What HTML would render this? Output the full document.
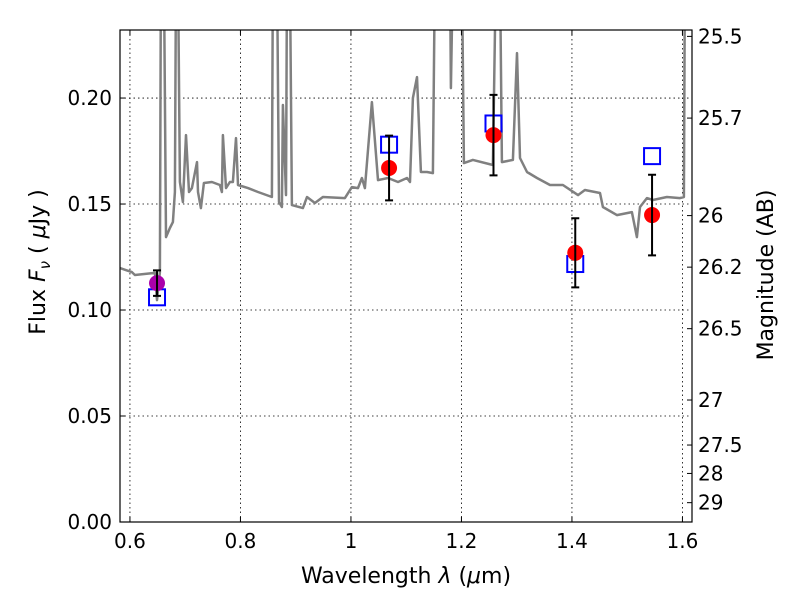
<!DOCTYPE html>
<html><head><meta charset="utf-8"><style>
html,body{margin:0;padding:0;background:#fff;}
svg{display:block;font-family:"DejaVu Sans","Liberation Sans",sans-serif;}
</style></head><body>
<svg id="chart" width="800" height="600" viewBox="0 0 800 600">
<rect width="800" height="600" fill="#fff"/>
<defs><clipPath id="pc"><rect x="120" y="30" width="572" height="492"/></clipPath></defs>
<g id="grid"></g>
<g id="spec" clip-path="url(#pc)"></g>
<g id="marks" clip-path="url(#pc)"></g>
<rect x="120" y="30" width="572" height="492" fill="none" stroke="#000" stroke-width="1.2"/>
<g id="axes"></g>
<text x="406" y="583" text-anchor="middle" font-size="22">Wavelength  <tspan font-style="italic">λ</tspan> (<tspan font-style="italic">μ</tspan>m)</text>
<text transform="translate(45,262) rotate(-90)" text-anchor="middle" font-size="22">Flux  <tspan font-style="italic">F<tspan font-size="15" dy="5">ν</tspan></tspan><tspan dy="-5">  (  </tspan><tspan font-style="italic">μ</tspan>Jy )</text>
<text transform="translate(773,275) rotate(-90)" text-anchor="middle" font-size="22">Magnitude (AB)</text>
</svg>
<script>
const specWave=[0.582,0.6036,0.609,0.6452,0.6489,0.6543,0.6561,0.6615,0.6652,0.6724,0.6778,0.6814,0.6833,0.6869,0.6905,0.6959,0.7014,0.7068,0.7122,0.7213,0.7231,0.7285,0.7339,0.7484,0.7629,0.7665,0.7683,0.7738,0.781,0.7864,0.7919,0.7955,0.8136,0.8317,0.857,0.8588,0.8661,0.8697,0.8751,0.8769,0.8824,0.8842,0.8896,0.8932,0.9131,0.9204,0.9348,0.9493,0.9891,1.0018,1.0127,1.0199,1.0253,1.038,1.0489,1.067,1.0851,1.1014,1.1068,1.1122,1.1195,1.1267,1.1376,1.1484,1.152,1.1792,1.181,1.1846,1.2009,1.2045,1.2208,1.257,1.2624,1.2697,1.2733,1.2932,1.3005,1.3059,1.3186,1.3367,1.3602,1.3837,1.4109,1.4235,1.4507,1.4561,1.4814,1.5086,1.5176,1.5231,1.5357,1.5466,1.5719,1.5955,1.6027,1.6045,1.6172];
const specFlux=[0.1198,0.1179,0.1165,0.1175,0.1047,0.1179,0.26,0.26,0.1344,0.1387,0.1415,0.1557,0.26,0.26,0.1604,0.1509,0.1825,0.1557,0.1575,0.1698,0.1557,0.1481,0.1599,0.1604,0.159,0.1557,0.1825,0.1575,0.1604,0.1604,0.1811,0.159,0.1575,0.1557,0.1533,0.26,0.26,0.1509,0.1486,0.1967,0.1542,0.26,0.26,0.1495,0.1481,0.1533,0.1505,0.1533,0.1528,0.158,0.1575,0.1623,0.1575,0.1981,0.1613,0.1623,0.1604,0.1623,0.1604,0.2,0.2099,0.1651,0.1651,0.1646,0.26,0.26,0.2047,0.26,0.26,0.1693,0.1708,0.1684,0.26,0.26,0.1698,0.1708,0.2212,0.1717,0.1651,0.1623,0.159,0.159,0.1542,0.1566,0.1552,0.1486,0.1448,0.1462,0.1344,0.1486,0.1528,0.1519,0.1533,0.1528,0.1533,0.26,0.26];
const photWave=[0.649,1.069,1.258,1.406,1.545];
const photFlux=[0.1127,0.167,0.1825,0.127,0.1448];
const photErr=[0.006,0.0153,0.019,0.0163,0.019];
const modelFlux=[0.106,0.178,0.188,0.1217,0.1726];
const xTicks=[0.6,0.8,1.0,1.2,1.4,1.6];
const xTickLabels=["0.6","0.8","1","1.2","1.4","1.6"];
const yTicks=[0,0.05,0.1,0.15,0.2];
const yTickLabels=["0.00","0.05","0.10","0.15","0.20"];
const magTicks=[25.5,25.7,26,26.2,26.5,27,27.5,28,29];
const magTickLabels=["25.5","25.7","26","26.2","26.5","27","27.5","28","29"];

const NS="http://www.w3.org/2000/svg";
const X0=120,X1=692,Y0=522,Y1=30,XMIN=0.582,XMAX=1.6173,YMIN=0,YMAX=0.2321;
const sx=w=>X0+(w-XMIN)/(XMAX-XMIN)*(X1-X0);
const sy=f=>Y0-(f-YMIN)/(YMAX-YMIN)*(Y0-Y1);
const magY=m=>sy(Math.pow(10,(23.9-m)/2.5));
function mk(parent,tag,attrs){const e=document.createElementNS(NS,tag);for(const k in attrs)e.setAttribute(k,attrs[k]);document.getElementById(parent).appendChild(e);return e;}

xTicks.forEach((t,i)=>{const x=sx(t);
 const g=mk('grid','line',{x1:x,x2:x,y1:Y1,y2:Y0,stroke:'#000','stroke-width':0.8,'stroke-dasharray':'1.5,3'});
 
 
 mk('axes','line',{x1:x,x2:x,y1:Y0,y2:Y0-5,stroke:'#000'});
 mk('axes','line',{x1:x,x2:x,y1:Y1,y2:Y1+5,stroke:'#000'});
 const l=mk('axes','text',{x:x,y:Y0+26,'text-anchor':'middle','font-size':20});
 l.textContent=xTickLabels[i];
 
 
});
yTicks.forEach((t,i)=>{const y=sy(t);
 const g=mk('grid','line',{x1:X0,x2:X1,y1:y,y2:y,stroke:'#000','stroke-width':0.8,'stroke-dasharray':'1.5,3'});
 
 
 mk('axes','line',{x1:X0,x2:X0+5,y1:y,y2:y,stroke:'#000'});
 const l=mk('axes','text',{x:X0-8,y:y+7,'text-anchor':'end','font-size':20});
 l.textContent=yTickLabels[i];
 
 
});
magTicks.forEach((m,i)=>{const y=magY(m);
 mk('axes','line',{x1:X1,x2:X1-5,y1:y,y2:y,stroke:'#000'});
 const l=mk('axes','text',{x:X1+6,y:y+7,'text-anchor':'start','font-size':20});
 l.textContent=magTickLabels[i];
 
 
});

const pts=specWave.map((w,i)=>sx(w).toFixed(1)+','+sy(specFlux[i]).toFixed(1)).join(' ');
const sp=mk('spec','polyline',{points:pts,fill:'none',stroke:'#808080','stroke-width':2.5,'stroke-linejoin':'round'});



photWave.forEach((w,i)=>{const x=sx(w);
 const sq=mk('marks','rect',{x:x-8,y:sy(modelFlux[i])-8,width:16,height:16,fill:'none',stroke:'#0000ff','stroke-width':2});
 
 
 const yt=sy(photFlux[i]+photErr[i]),yb=sy(photFlux[i]-photErr[i]);
 const c=mk('marks','circle',{cx:x,cy:sy(photFlux[i]),r:8,fill:i===0?'#aa00aa':'#ff0000'});
 
 
 const eb=mk('marks','path',{d:`M${x},${yt}V${yb}M${x-4},${yt}H${x+4}M${x-4},${yb}H${x+4}`,stroke:'#000','stroke-width':2,fill:'none'});
 
 
});
</script>
</body></html>
